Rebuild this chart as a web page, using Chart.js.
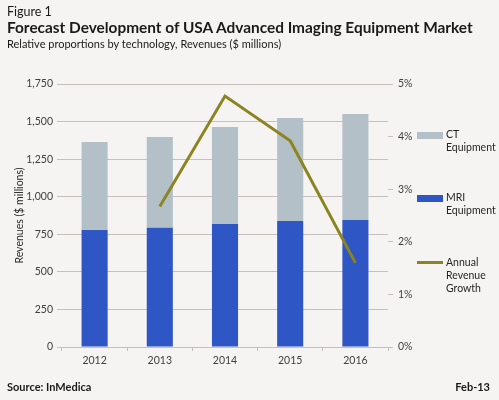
<!DOCTYPE html>
<html>
<head>
<meta charset="utf-8">
<script src="https://cdn.jsdelivr.net/npm/chart.js@4/dist/chart.umd.min.js"></script>
<style>
  body { margin: 0; background: #f5f4f2; font-family: Lato, sans-serif; color: #1a1a1a; }
  #wrap { position: relative; width: 499px; height: 400px; overflow: hidden; background: #f5f4f2; }
  canvas { position: absolute; left: 0; top: 0; }
  .txt { position: absolute; white-space: nowrap; }
  #fig { left: 7px; top: 4px; font-size: 12.5px; }
  #title { left: 7px; top: 18px; font-size: 15.4px; font-weight: bold; }
  #sub { left: 7px; top: 37px; font-size: 11px; }
  #src { left: 7px; top: 380px; font-size: 11px; font-weight: bold; }
  #date { right: 9px; top: 380px; font-size: 11px; font-weight: bold; }
  .leg { position: absolute; left: 417px; font-size: 10.5px; line-height: 13px; color: #262626; }
  .leg span { position: absolute; left: 0; width: 26px; }
  .leg div { margin-left: 29px; }
</style>
</head>
<body>
<div id="wrap">
  <canvas id="chart" width="499" height="400"></canvas>
  <div class="txt" id="fig">Figure 1</div>
  <div class="txt" id="title">Forecast Development of USA Advanced Imaging Equipment Market</div>
  <div class="txt" id="sub">Relative proportions by technology, Revenues ($ millions)</div>
  <div class="leg" style="top:128px"><span style="top:4px;height:7px;background:#b3c0c8"></span><div>CT<br>Equipment</div></div>
  <div class="leg" style="top:191px"><span style="top:4px;height:7px;background:#2e56c4"></span><div>MRI<br>Equipment</div></div>
  <div class="leg" style="top:256px"><span style="top:5px;height:3px;background:#8c8420"></span><div>Annual<br>Revenue<br>Growth</div></div>
  <div class="txt" id="src">Source: InMedica</div>
  <div class="txt" id="date">Feb-13</div>
</div>
<script>
// data
const years = ['2012', '2013', '2014', '2015', '2016']
const mriRevenue = [778, 794, 818, 838, 845]
const ctRevenue = [586, 603, 646, 686, 705]
const growthPct = [null, 2.67, 4.77, 3.92, 1.60]

const tickFont = { family: 'Lato', size: 10.5 }
const gridColor = '#c6bfbb'

const ctx = document.getElementById('chart').getContext('2d')
new Chart(ctx, {
    type: 'bar',
    data: {
        labels: years,
        datasets: [
            {
                type: 'line',
                label: 'Annual Revenue Growth',
                data: growthPct,
                yAxisID: 'y2',
                borderColor: '#8c8420',
                borderWidth: 3,
                pointRadius: 0,
                tension: 0,
                order: 0
            },
            {
                label: 'MRI Equipment',
                data: mriRevenue,
                backgroundColor: '#2e56c4',
                yAxisID: 'y',
                stack: 's',
                barPercentage: 0.4,
                categoryPercentage: 1,
                order: 1
            },
            {
                label: 'CT Equipment',
                data: ctRevenue,
                backgroundColor: '#b3c0c8',
                yAxisID: 'y',
                stack: 's',
                barPercentage: 0.4,
                categoryPercentage: 1,
                order: 1
            }
        ]
    },
    options: {
        responsive: false,
        animation: false,
        layout: { padding: { top: 84, right: 71, bottom: 0, left: 13 } },
        plugins: {
            legend: { display: false },
            tooltip: { enabled: false }
        },
        scales: {
            x: {
                stacked: true,
                offset: true,
                afterFit: s => { s.height = 53 },
                grid: { offset: true, drawOnChartArea: false, tickLength: 4, color: gridColor },
                border: { color: gridColor },
                ticks: { color: '#404040', font: tickFont, padding: 3 }
            },
            y: {
                stacked: true,
                min: 0,
                max: 1750,
                afterFit: s => { s.width = 49 },
                ticks: {
                    stepSize: 250,
                    color: '#404040',
                    font: tickFont,
                    padding: 4,
                    callback: v => v.toLocaleString('en-US')
                },
                grid: { color: gridColor, tickLength: 5 },
                border: { display: false },
                title: {
                    display: true,
                    text: 'Revenues ($ millions)',
                    color: '#262626',
                    font: { family: 'Lato', size: 10.5 },
                    padding: 0
                }
            },
            y2: {
                position: 'right',
                min: 0,
                max: 5,
                afterFit: s => { s.width = 40 },
                ticks: {
                    stepSize: 1,
                    color: '#404040',
                    font: tickFont,
                    padding: 5,
                    callback: v => v + '%'
                },
                grid: { drawOnChartArea: false, tickLength: 5, color: gridColor },
                border: { display: false }
            }
        }
    }
})
</script>
</body>
</html>
